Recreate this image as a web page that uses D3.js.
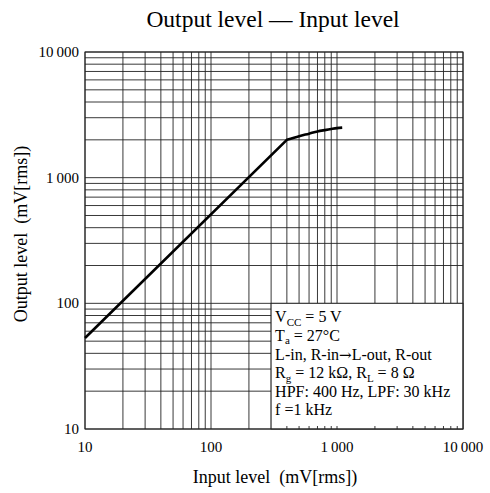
<!doctype html>
<html lang="en">
<head>
  <meta charset="UTF-8">
  <title>Output level — Input level</title>
  <style type="text/css">
    body { margin: 0; background: #fff; }
    svg text { font-family: "Liberation Serif", "DejaVu Serif", serif; fill: #000; }
  </style>
  <script src="https://cdn.jsdelivr.net/npm/d3@7/dist/d3.min.js"></script>
</head>
<body>
  <svg id="chart" width="490" height="493"></svg>
  <script>
    // curve (mV rms)
    let inputLevel = [10, 400, 500, 600, 700, 800, 900, 1000, 1100]
    let outputLevel = [53, 2000, 2140, 2240, 2330, 2390, 2440, 2480, 2500]
    let majorTicks = [10, 100, 1000, 10000]
    let tickLabels = ["10", "100", "1\u2009000", "10\u2009000"]

    let margin = { left: 85, right: 27, top: 52, bottom: 64 }
    let W = 490, H = 493
    let svg = d3.select("#chart")

    let x = d3.scaleLog().domain([10, 10000]).range([margin.left, W - margin.right])
    let y = d3.scaleLog().domain([10, 10000]).range([H - margin.bottom, margin.top])

    // every 1..9 of each decade
    let gridVals = []
    for (let d = 10; d < 10000; d *= 10) {
      for (let k = 1; k < 10; k++) gridVals.push(d * k)
    }
    gridVals.push(10000)

    let grid = svg.append("g").attr("stroke", "#222").attr("stroke-width", 0.9)
    grid.selectAll("line.v")
      .data(gridVals)
      .enter().append("line")
      .attr("class", "v")
      .attr("x1", d => x(d)).attr("x2", d => x(d))
      .attr("y1", y(10)).attr("y2", y(10000))
    grid.selectAll("line.h")
      .data(gridVals)
      .enter().append("line")
      .attr("class", "h")
      .attr("y1", d => y(d)).attr("y2", d => y(d))
      .attr("x1", x(10)).attr("x2", x(10000))

    // conditions box sits over the lower right corner of the grid
    let box = { x0: 300, x1: 10000, y0: 10, y1: 100 }
    svg.append("rect")
      .attr("x", x(box.x0)).attr("y", y(box.y1))
      .attr("width", x(box.x1) - x(box.x0))
      .attr("height", y(box.y0) - y(box.y1))
      .attr("fill", "#fff").attr("stroke", "#222").attr("stroke-width", 0.9)

    // short ticks along the bottom inside the box
    svg.append("g").selectAll("line")
      .data(gridVals.filter(d => d > box.x0 && d < box.x1))
      .enter().append("line")
      .attr("x1", d => x(d)).attr("x2", d => x(d))
      .attr("y1", y(10)).attr("y2", y(10) - 3)
      .attr("stroke", "#222").attr("stroke-width", 0.9)

    // frame
    svg.append("rect")
      .attr("x", x(10)).attr("y", y(10000))
      .attr("width", x(10000) - x(10)).attr("height", y(10) - y(10000))
      .attr("fill", "none").attr("stroke", "#222").attr("stroke-width", 1)

    // curve: straight up to the knee, smooth after it
    let pts = inputLevel.map((d, i) => [x(d), y(outputLevel[i])])
    svg.append("path")
      .attr("d", d3.line()(pts.slice(0, 2)) +
        d3.line().curve(d3.curveMonotoneX)(pts.slice(1)).replace(/^M/, "L"))
      .attr("fill", "none").attr("stroke", "#000").attr("stroke-width", 2.6)

    // tick labels
    svg.append("g").selectAll("text")
      .data(majorTicks)
      .enter().append("text")
      .attr("x", d => x(d)).attr("y", H - margin.bottom + 23)
      .attr("text-anchor", "middle").attr("font-size", 15)
      .text((d, i) => tickLabels[i])
    svg.append("g").selectAll("text")
      .data(majorTicks)
      .enter().append("text")
      .attr("x", margin.left - 6).attr("y", d => y(d) + 5)
      .attr("text-anchor", "end").attr("font-size", 15)
      .text((d, i) => tickLabels[i])

    // titles
    svg.append("text").attr("x", 273).attr("y", 27)
      .attr("text-anchor", "middle").attr("font-size", 23.5)
      .text("Output level \u2014 Input level")
    svg.append("text").attr("x", 275).attr("y", 483)
      .attr("text-anchor", "middle").attr("font-size", 18)
      .attr("xml:space", "preserve")
      .text("Input level  (mV[rms])")
    svg.append("text")
      .attr("transform", "translate(27,234) rotate(-90)")
      .attr("text-anchor", "middle").attr("font-size", 18)
      .attr("xml:space", "preserve")
      .text("Output level  (mV[rms])")

    // conditions text
    let conditions = [
      [["V", ""], ["CC", "sub"], [" = 5 V", ""]],
      [["T", ""], ["a", "sub"], [" = 27\u00b0C", ""]],
      [["L-in, R-in", ""], ["\u2192", "arrow"], ["L-out, R-out", ""]],
      [["R", ""], ["g", "sub"], [" = 12 k\u03a9, R", ""], ["L", "sub"], [" = 8 \u03a9", ""]],
      [["HPF: 400 Hz, LPF: 30 kHz", ""]],
      [["f =1 kHz", ""]]
    ]
    let cond = svg.append("g")
    conditions.forEach((parts, i) => {
      let t = cond.append("text")
        .attr("x", x(box.x0) + 4).attr("y", y(box.y1) + 19 + i * 18.6)
        .attr("font-size", 16)
      let prevSub = false
      parts.forEach((p, j) => {
        let s = t.append("tspan").text(p[0])
        if (p[1] === "sub") {
          s.attr("font-size", 11).attr("dy", 3.5)
          prevSub = true
        } else {
          if (prevSub) s.attr("dy", -3.5)
          prevSub = false
          if (p[1] === "arrow") s.style("font-family", "'DejaVu Serif'").attr("font-size", 15)
        }
      })
    })
  </script>
</body>
</html>
